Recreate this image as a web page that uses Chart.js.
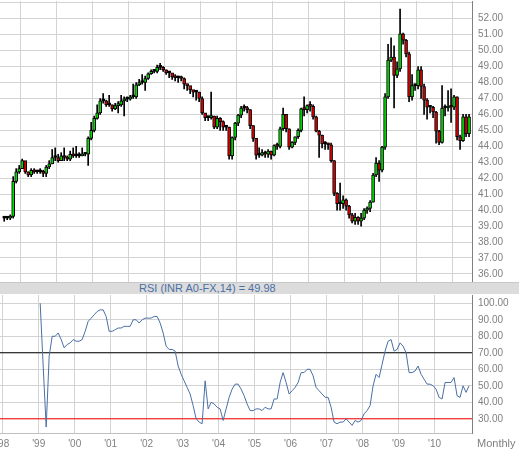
<!DOCTYPE html>
<html>
<head>
<meta charset="utf-8">
<script src="https://cdn.jsdelivr.net/npm/chart.js@4"></script>
<style>
  body { margin: 0; background: #fff; width: 519px; height: 451px; overflow: hidden; position: relative; font-family: "Liberation Sans", Arial, sans-serif; }
  #priceBox { position: absolute; left: -20px; top: -11px; width: 539px; height: 306px; }
  #rsiBox { position: absolute; left: -20px; top: 283px; width: 539px; height: 168px; }
  #rsiHeader { position: absolute; z-index: 2; left: 0; top: 282px; width: 519px; height: 11px; background: #dcdcdc; border-top: 1px solid #c8c8c8; color: #4a6fa5; font-size: 11px; line-height: 11px; }
  #rsiHeader span { position: absolute; left: 139px; top: 0; }
  #freq { position: absolute; left: 477px; top: 437px; font-size: 11px; color: #808080; }
</style>
</head>
<body>
<div id="priceBox"><canvas id="priceChart"></canvas></div>
<div id="rsiBox"><canvas id="rsiChart"></canvas></div>
<div id="rsiHeader"><span>RSI (INR A0-FX,14) = 49.98</span></div>
<div id="freq">Monthly</div>
<script>
// monthly candles, Jan 1998 .. Dec 2010
const firstYear = 1998;
const closes = [39.5,39.5,39.6,41.8,42.4,42.6,43.1,42.4,42.2,42.5,42.4,42.4,
  42.4,42.3,42.7,42.9,43.3,43.3,43.1,43.4,43.3,43.2,43.5,43.4,
  43.4,43.4,43.5,43.5,44.5,45.0,45.75,46.1,46.85,46.85,46.6,46.6,
  46.35,46.55,46.6,46.85,46.95,46.95,47.1,47.1,47.85,48.0,48.0,48.25,
  48.55,48.7,48.7,48.95,48.95,48.8,48.6,48.6,48.35,48.3,48.3,48.25,
  47.9,47.8,47.55,47.4,47.4,47.0,46.1,45.8,45.8,45.9,45.2,45.75,
  45.55,45.2,45.2,43.4,44.55,45.45,45.95,46.4,46.4,46.3,45.3,44.5,
  43.45,43.45,43.6,43.5,43.7,43.45,44.05,44.0,45.1,46.0,45.1,43.95,
  44.25,44.6,45.0,46.35,46.3,46.55,46.5,45.85,44.95,44.7,44.15,44.15,
  44.1,43.1,41.05,40.4,40.4,40.65,40.25,39.7,39.3,39.55,39.3,39.5,
  40.0,40.1,40.5,42.2,42.95,42.5,43.95,47.1,49.4,49.6,48.45,48.85,
  51.05,50.65,49.8,47.1,47.8,47.8,48.8,47.75,46.9,46.45,46.45,46.15,
  44.95,44.25,46.4,46.4,46.5,46.45,47.1,44.6,44.35,45.85,44.8,45.85];
const highs = [39.6,39.6,39.7,42.1,42.6,42.8,43.2,42.5,42.4,42.6,42.6,42.5,
  42.6,42.5,42.8,43.1,43.8,43.9,43.5,43.6,43.9,43.4,43.7,43.9,
  44.0,43.6,43.9,43.6,44.6,45.5,45.9,46.6,47.0,47.3,46.9,47.2,
  46.6,46.7,46.8,47.2,47.1,47.1,47.2,47.9,48.0,48.2,48.5,48.4,
  48.6,48.8,48.8,49.1,49.2,49.0,48.8,48.7,48.5,48.5,48.4,48.4,
  48.3,47.9,47.7,47.5,47.5,47.4,47.1,45.9,45.9,47.4,45.9,45.9,
  45.8,45.6,45.3,45.2,44.6,45.5,46.0,46.5,46.6,46.5,46.3,45.3,
  44.5,43.9,43.8,43.7,43.8,43.7,44.1,44.2,45.2,46.4,46.0,45.1,
  44.3,44.6,45.1,46.4,47.1,46.6,46.8,46.6,45.9,45.0,44.7,44.3,
  44.2,44.2,43.1,41.1,41.7,40.9,40.7,40.3,39.8,39.8,39.6,39.8,
  40.1,40.2,40.6,42.3,43.3,43.1,44.0,47.3,50.4,50.8,50.3,49.3,
  52.6,51.1,50.7,49.9,48.5,47.9,49.0,49.0,47.9,47.0,46.5,46.5,
  46.2,45.0,47.8,46.6,47.5,47.6,47.2,47.1,44.7,46.0,46.0,46.0];
const lows = [39.3,39.4,39.4,39.5,41.7,42.3,42.7,42.3,42.1,42.1,42.3,42.3,
  42.3,42.1,42.1,42.6,42.9,43.1,43.0,43.2,43.1,43.1,43.1,43.3,
  43.3,43.3,43.4,43.4,42.8,44.4,44.9,45.7,46.0,46.7,46.5,46.5,
  46.2,46.3,46.1,46.5,45.9,46.8,46.9,47.0,47.0,47.8,47.9,47.5,
  48.2,48.5,48.6,48.6,48.8,48.7,48.5,48.3,48.2,48.1,48.0,48.1,
  47.6,47.5,47.3,47.1,46.9,46.8,46.0,45.6,45.6,45.7,45.1,45.1,
  45.0,45.0,45.0,43.2,43.2,44.4,45.3,45.8,46.2,46.1,45.1,44.3,
  43.2,43.3,43.4,43.3,43.3,43.2,43.4,43.8,43.9,45.0,44.9,43.8,
  43.9,44.1,44.5,44.9,45.9,46.1,46.2,45.7,44.9,43.3,43.9,43.8,
  43.8,43.0,40.9,40.0,40.0,40.1,40.0,39.5,39.2,39.1,39.1,39.0,
  39.4,39.8,39.9,40.5,42.1,41.8,42.4,43.8,47.0,49.3,46.4,48.3,
  48.7,50.4,49.6,46.8,46.9,47.5,47.6,47.0,46.0,45.7,46.1,45.8,
  44.2,44.1,44.2,45.9,46.2,45.5,46.3,44.4,43.8,44.3,44.6,44.6];
const rsi = [null,null,null,null,null,null,null,null,null,null,null,null,
  100,62,25,68,80,80,82,78,73,75,76,78,
  77,77,78,83,89,91,93,95,96,96,92,83,
  83,84,85,85,86,86,86,90,90,88,90,91,
  91,91,92,92,88,82,74,72,72,71,62,57,
  53,49,45,38,30,28,27,53,36,40,39,37,
  36,29,36,43,48,51,51,48,44,39,35,35,
  36,36,35,37,36,36,42,42,52,58,52,45,
  47,49,52,58,58,60,60,56,49,47,45,43,
  43,37,28,27,28,28,30,28,26,29,28,29,
  33,35,38,50,57,55,63,71,77,78,71,72,
  76,74,70,58,58,59,62,57,54,51,51,50,
  48,43,42,52,52,52,55,44,43,50,46,50];
const yearTicks = [1998,1999,2000,2001,2002,2003,2004,2005,2006,2007,2008,2009,2010];
const priceTicks = [36,37,38,39,40,41,42,43,44,45,46,47,48,49,50,51,52,53];
const rsiTicks = [30,40,50,60,70,80,90,100];
const rsiOverbought = 70, rsiOversold = 30;

const xMin = 1997.925 - 20 / 36, xMax = 2011.04;
const gridColor = "#d3d3d3";
const font = { family: "Liberation Sans", size: 10 };
const monthX = i => firstYear + i / 12 + 1 / 24;

const opens = closes.map((c, i) => i === 0 ? c : closes[i - 1]);
const wickData = closes.map((c, i) => ({ x: monthX(i), y: [lows[i], highs[i]] }));
const bodyData = closes.map((c, i) => ({ x: monthX(i), y: [Math.min(opens[i], c), Math.max(opens[i], c)] }));
const bodyColors = closes.map((c, i) => c > opens[i] ? "#00e000" : (c < opens[i] ? "#e00000" : "#000"));

function xScale(showLabels) {
  return {
    type: "linear", min: xMin, max: xMax, offset: false,
    afterBuildTicks: s => { s.ticks = yearTicks.map(v => ({ value: v })); },
    grid: { color: gridColor, drawTicks: false },
    border: { display: showLabels, color: "#c0c0c0" },
    ticks: {
      display: showLabels, color: "#808080", font: font, padding: 5, maxRotation: 0, autoSkip: false,
      callback: v => "'" + String(v).slice(2)
    },
    afterFit: s => { if (showLabels) s.height = 18; }
  };
}

function yScale(min, max, ticks, hideAbove) {
  return {
    position: "right", min: min, max: max,
    afterBuildTicks: s => { s.ticks = ticks.map(v => ({ value: v })); },
    grid: { color: gridColor, drawTicks: false },
    border: { color: "#808080", width: 1 },
    ticks: {
      color: "#808080", font: font, padding: 6,
      callback: v => v > hideAbove ? "" : v.toFixed(2)
    },
    afterFit: s => { s.width = 47; }
  };
}

new Chart(document.getElementById("priceChart"), {
  type: "bar",
  data: {
    datasets: [
      { data: wickData, backgroundColor: "#000", barThickness: 1, grouped: false, order: 2 },
      { data: bodyData, backgroundColor: bodyColors, borderColor: "#000", borderWidth: 1,
        borderSkipped: false, barThickness: 3, minBarLength: 2, grouped: false, order: 1 }
    ]
  },
  options: {
    responsive: true, maintainAspectRatio: false, animation: false,
    layout: { padding: 0 },
    plugins: { legend: { display: false }, tooltip: { enabled: false } },
    scales: { x: xScale(false), y: yScale(35.43, 53.11, priceTicks, 52) }
  }
});

new Chart(document.getElementById("rsiChart"), {
  type: "line",
  data: {
    datasets: [
      { data: rsi.map((v, i) => ({ x: monthX(i), y: v })), borderColor: "#4a6fa5", borderWidth: 1,
        pointRadius: 0, tension: 0, spanGaps: false },
      { data: [{ x: xMin, y: rsiOverbought }, { x: xMax, y: rsiOverbought }], borderColor: "#000", borderWidth: 1, pointRadius: 0 },
      { data: [{ x: xMin, y: rsiOversold }, { x: xMax, y: rsiOversold }], borderColor: "#ff0000", borderWidth: 1, pointRadius: 0 }
    ]
  },
  options: {
    responsive: true, maintainAspectRatio: false, animation: false,
    layout: { padding: 0 },
    plugins: { legend: { display: false }, tooltip: { enabled: false } },
    scales: { x: xScale(true), y: yScale(21.4, 105, rsiTicks, 100) }
  }
});
</script>
</body>
</html>
